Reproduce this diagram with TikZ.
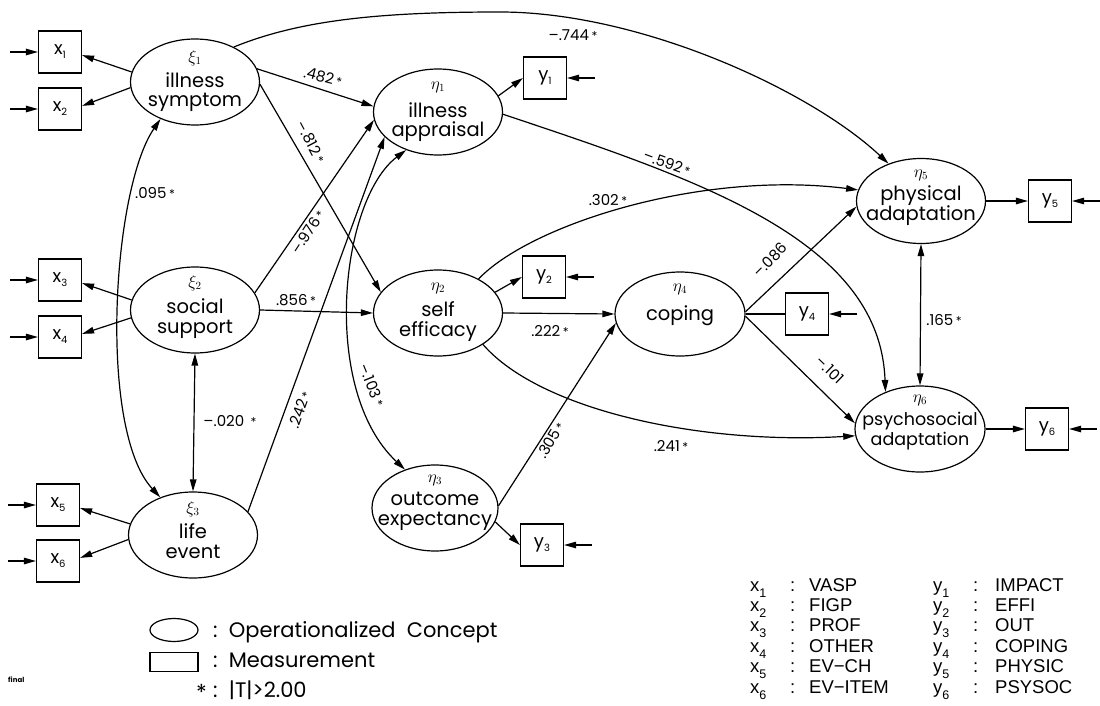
\documentclass[tikz,border=0pt]{standalone}
\usepackage{fontspec}
\setmainfont{Poppins}
\newfontfamily\helv{Liberation Sans}
\usetikzlibrary{arrows.meta,shapes.geometric}

% significance mark after a coefficient
\newcommand\sig{\,{\fontsize{12}{12}\selectfont *}}
% indicator label with lowered index
\newcommand\ind[2]{#1\raisebox{-4pt}{\fontsize{10}{10}\selectfont #2}}
% key entry with lowered index
\newcommand\kind[2]{#1\raisebox{-6pt}{\fontsize{12.5}{12.5}\selectfont #2}}

\begin{document}
\begin{tikzpicture}[x=1pt,y=-1pt,
  lat/.style={draw,ellipse,minimum width=129pt,minimum height=86pt,inner sep=0pt,line width=1.2pt},
  obs/.style={draw,rectangle,minimum width=43pt,minimum height=42pt,inner sep=0pt,line width=1.2pt,font=\fontsize{18}{18}\selectfont},
  gk/.style={inner sep=0pt,font=\fontsize{16}{16}\selectfont},
  ltx/.style={inner sep=0pt,align=center,anchor=base,font=\fontsize{19.5}{20}\selectfont},
  conn/.style={line width=1.2pt,-{Triangle[length=12pt,width=6.5pt]}},
  cov/.style={line width=1.2pt,{Triangle[length=12pt,width=6.5pt]}-{Triangle[length=12pt,width=6.5pt]}},
  plain/.style={line width=1.2pt},
  coef/.style={inner sep=0pt,font=\fontsize{15}{15}\selectfont},
  legtxt/.style={inner sep=0pt,anchor=base west,font=\fontsize{21}{21}\selectfont},
  key/.style={inner sep=0pt,anchor=base west,font=\helv\fontsize{18.5}{18.5}\selectfont},
  ]
\useasboundingbox (0,0) rectangle (1100,706);

% ---------- latent variables ----------
% (the base of a two-line label is the baseline of its second line)
\node[lat] (xi1) at (195,82) {};
\node[gk]  (xi1g) at ([yshift=24pt]xi1.center) {$\xi_1$};
\node[ltx] (xi1t) at ([yshift=-25pt]xi1.center) {illness\\symptom};

\node[lat] (xi2) at (195,310) {};
\node[gk]  (xi2g) at ([yshift=27pt]xi2.center) {$\xi_2$};
\node[ltx] (xi2t) at ([yshift=-23pt]xi2.center) {social\\support};

\node[lat] (xi3) at (193,535) {};
\node[gk]  (xi3g) at ([yshift=26pt]xi3.center) {$\xi_3$};
\node[ltx] (xi3t) at ([yshift=-23pt]xi3.center) {life\\event};

\node[lat] (eta1) at (438,112) {};
\node[gk]  (eta1g) at ([yshift=25pt]eta1.center) {$\eta_1$};
\node[ltx] (eta1t) at ([yshift=-25pt]eta1.center) {illness\\appraisal};

\node[lat] (eta2) at (438,313) {};
\node[gk]  (eta2g) at ([yshift=25pt]eta2.center) {$\eta_2$};
\node[ltx] (eta2t) at ([yshift=-23pt]eta2.center) {self\\efficacy};

\node[lat,minimum width=126pt] (eta3) at (435,508) {};
\node[gk]  (eta3g) at ([yshift=28pt]eta3.center) {$\eta_3$};
\node[ltx] (eta3t) at ([yshift=-17pt]eta3.center) {outcome\\expectancy};

\node[lat,minimum width=130pt,minimum height=84pt] (eta4) at (680,314) {};
\node[gk]  (eta4g) at ([yshift=25pt]eta4.center) {$\eta_4$};
\node[ltx] (eta4t) at ([yshift=-6pt]eta4.center) {coping};

\node[lat,minimum height=85pt] (eta5) at (921,201) {};
\node[gk]  (eta5g) at ([yshift=26pt]eta5.center) {$\eta_5$};
\node[ltx] (eta5t) at ([yshift=-19pt]eta5.center) {physical\\adaptation};

\node[lat,minimum width=130pt] (eta6) at (920,429) {};
\node[gk]  (eta6g) at ([yshift=29pt]eta6.center) {$\eta_6$};
\node[ltx,font=\fontsize{17.5}{20}\selectfont] (eta6t) at ([yshift=-16pt]eta6.center) {psychosocial\\adaptation};

% ---------- indicators ----------
\node[obs] (x1) at (60,52)  {\ind{x}{1}};
\node[obs] (x2) at (60,109) {\ind{x}{2}};
\node[obs] (x3) at (60,280) {\ind{x}{3}};
\node[obs] (x4) at (60,337) {\ind{x}{4}};
\node[obs] (x5) at (58,505) {\ind{x}{5}};
\node[obs] (x6) at (58,561) {\ind{x}{6}};

\node[obs] (y1) at (545,78)   {\ind{y}{1}};
\node[obs] (y2) at (544,277)  {\ind{y}{2}};
\node[obs] (y3) at (542,545)  {\ind{y}{3}};
\node[obs] (y4) at (807,314)  {\ind{y}{4}};
\node[obs] (y5) at (1050,201) {\ind{y}{5}};
\node[obs] (y6) at (1047,429) {\ind{y}{6}};

% error terms
\foreach \b in {x1,x2,x3,x4,x5,x6}
  \draw[conn] ([xshift=-28pt]\b.west) -- (\b.west);
\foreach \b in {y1,y2,y3,y4,y5,y6}
  \draw[conn] ([xshift=28pt]\b.east) -- (\b.east);

% loadings
\draw[conn] (xi1.171) -- (x1.-8);
\draw[conn] (xi1.185) -- (x2.8);
\draw[conn] (xi2.171) -- (x3.-8);
\draw[conn] (xi2.187) -- (x4.8);
\draw[conn] (xi3.170) -- (x5.-8);
\draw[conn] (xi3.184) -- (x6.8);
\draw[conn] (eta1.15) -- (y1.west);
\draw[conn] (eta2.20) -- (y2.west);
\draw[conn] (eta3.-13) -- (y3.west);
\draw[plain] (eta4.0) -- (y4.west);
\draw[conn] (eta5.0) -- (y5.west);
\draw[conn] (eta6.0) -- (y6.west);

% structural paths
\draw[conn] (xi1.12) -- (eta1.175);
\draw[conn] (xi1.-2) -- (eta2.160);
\draw[conn] (xi2.16) -- (eta1.187);
\draw[conn] (xi3.23) -- (eta1.205);
\draw[conn] (xi2.0) -- (eta2.180);
\draw[conn] (xi1.42) .. controls (300,20) and (380,12) .. (500,12)
                     .. controls (640,12) and (810,90) .. (eta5.131);
\draw[conn] (eta1.-2) .. controls (700,180) and (880,240) .. (eta6.133);
\draw[conn] (eta2.40) .. controls (530,225) and (700,170) .. (eta5.170);
\draw[conn] (eta2.-35) .. controls (540,410) and (700,445) .. (eta6.186);
\draw[conn] (eta2.0) -- (eta4.180);
\draw[conn] (eta3.2) -- (eta4.188);
\draw[conn] (eta4.2) -- (eta5.185);
\draw[conn] (eta4.-2) -- (eta6.175);

% covariances
\draw[cov] (xi1.227) .. controls (112,190) and (98,430) .. (xi3.131);
\draw[cov] (xi2.south) -- (xi3.north);
\draw[cov] (eta1.230) .. controls (340,200) and (320,390) .. (eta3.128);
\draw[cov] (eta5.south) -- (eta6.north);

% coefficients
\node[coef,rotate=-15] (c1)  at (323,77)  {.482\sig};
\node[coef,rotate=-62] (c2)  at (311,142) {–.812\sig};
\node[coef,rotate=57]  (c3)  at (308,232) {–.976\sig};
\node[coef,rotate=70]  (c4)  at (300,410) {.242\sig};
\node[coef]            (c5)  at (296,300) {.856\sig};
\node[coef]            (c6)  at (155,193) {.095\sig};
\node[coef]            (c7)  at (230,421) {–.020\ \sig};
\node[coef]            (c8)  at (573,35)  {–.744\sig};
\node[coef,rotate=-20] (c9)  at (667,163) {–.592\sig};
\node[coef]            (c10) at (608,200) {.302\sig};
\node[coef]            (c11) at (550,331) {.222\sig};
\node[coef]            (c12) at (671,446) {.241\sig};
\node[coef,rotate=59]  (c13) at (551,440) {.305\sig};
\node[coef,rotate=-68] (c14) at (372,385) {–.103\sig};
\node[coef,rotate=45]  (c15) at (770,260) {–.086};
\node[coef,rotate=-44] (c16) at (830,370) {–.101};
\node[coef]            (c17) at (944,320) {.165\sig};

% ---------- key: symbols ----------
\node[draw,ellipse,minimum width=48pt,minimum height=23pt,inner sep=0pt,line width=1.2pt] (kell) at (174,630) {};
\node[draw,rectangle,minimum width=48pt,minimum height=19pt,inner sep=0pt,line width=1.2pt] (krect) at (174,662) {};
\node[legtxt] (kellt)  at (213,637) {:\ \ Operationalized\ \ Concept};
\node[legtxt] (krectt) at (213,667) {:\ \ Measurement};
\node[legtxt,font=\fontsize{22}{22}\selectfont] (kstar)  at (196,700) {*};
\node[legtxt] (kstart) at (213,697) {:\ \ |T|>2.00};
\node[inner sep=0pt,anchor=base west,font=\fontsize{7}{7}\selectfont\bfseries] (fin) at (8,682) {final};

% ---------- key: indicators ----------
\node[key] (kx1) at (750,591)   {\makebox[40pt][l]{\kind{x}{1}}\makebox[19pt][l]{:}VASP};
\node[key] (kx2) at (750,611.4) {\makebox[40pt][l]{\kind{x}{2}}\makebox[19pt][l]{:}FIGP};
\node[key] (kx3) at (750,631.8) {\makebox[40pt][l]{\kind{x}{3}}\makebox[19pt][l]{:}PROF};
\node[key] (kx4) at (750,652.2) {\makebox[40pt][l]{\kind{x}{4}}\makebox[19pt][l]{:}OTHER};
\node[key] (kx5) at (750,672.6) {\makebox[40pt][l]{\kind{x}{5}}\makebox[19pt][l]{:}EV−CH};
\node[key] (kx6) at (750,693)   {\makebox[40pt][l]{\kind{x}{6}}\makebox[19pt][l]{:}EV−ITEM};
\node[key] (ky1) at (933,591)   {\makebox[40pt][l]{\kind{y}{1}}\makebox[22pt][l]{:}IMPACT};
\node[key] (ky2) at (933,611.4) {\makebox[40pt][l]{\kind{y}{2}}\makebox[22pt][l]{:}EFFI};
\node[key] (ky3) at (933,631.8) {\makebox[40pt][l]{\kind{y}{3}}\makebox[22pt][l]{:}OUT};
\node[key] (ky4) at (933,652.2) {\makebox[40pt][l]{\kind{y}{4}}\makebox[22pt][l]{:}COPING};
\node[key] (ky5) at (933,672.6) {\makebox[40pt][l]{\kind{y}{5}}\makebox[22pt][l]{:}PHYSIC};
\node[key] (ky6) at (933,693)   {\makebox[40pt][l]{\kind{y}{6}}\makebox[22pt][l]{:}PSYSOC};
\end{tikzpicture}
\end{document}
